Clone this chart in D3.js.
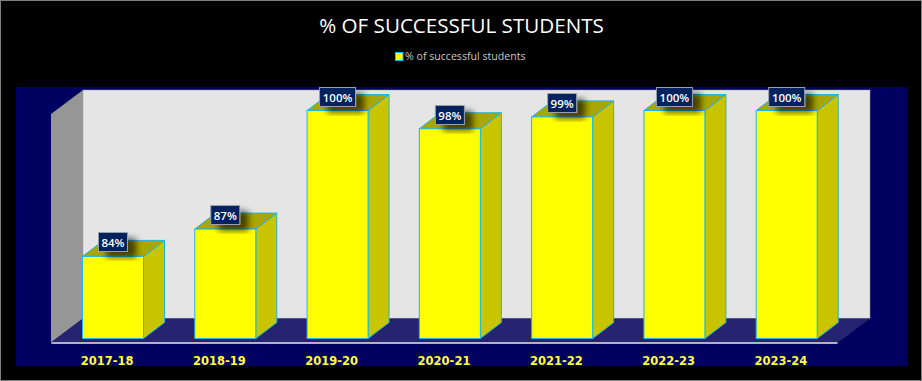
<!DOCTYPE html>
<html>
<head>
<meta charset="utf-8">
<script src="https://cdn.jsdelivr.net/npm/d3@7"></script>
<style>
  html, body { margin: 0; padding: 0; background: #000; }
  svg { display: block; }
</style>
</head>
<body>
<div id="chart"></div>
<script>
const categories = ['2017-18', '2018-19', '2019-20', '2020-21', '2021-22', '2022-23', '2023-24'];
const values = [84, 87, 100, 98, 99.3, 100, 100];
const valueLabels = ['84%', '87%', '100%', '98%', '99%', '100%', '100%'];
const yDomain = [75, 100];
const chartTitle = '% OF SUCCESSFUL STUDENTS';
const seriesName = '% of successful students';

const width = 922;
const height = 381;
const depthX = 32;   // floor / side wall skew
const depthY = 24;
const barDepthX = 21;
const barDepthY = 16;
const axisY = 342.5;
const floorLeft = 51;
const floorRight = 838;

const svg = d3.select('#chart').append('svg')
    .attr('width', width)
    .attr('height', height);

const defs = svg.append('defs');
const shadow = defs.append('filter')
    .attr('id', 'label-shadow')
    .attr('x', '-50%').attr('y', '-50%')
    .attr('width', '200%').attr('height', '200%');
shadow.append('feDropShadow')
    .attr('dx', 8).attr('dy', 6)
    .attr('stdDeviation', 3)
    .attr('flood-color', '#000')
    .attr('flood-opacity', 0.6);

const xScale = d3.scaleBand()
    .domain(categories)
    .range([floorLeft, floorRight - 1])
    .paddingInner(0)
    .paddingOuter(0);

const yScale = d3.scaleLinear()
    .domain(yDomain)
    .range([338.5, 110.5]);

// outer frame and plot background
svg.append('rect')
    .attr('x', 0.5).attr('y', 0.5)
    .attr('width', width - 1).attr('height', height - 1)
    .attr('fill', '#000')
    .attr('stroke', '#808080');

svg.append('rect')
    .attr('x', 16).attr('y', 87)
    .attr('width', 891).attr('height', 279)
    .attr('fill', '#000060');

// back wall, side wall, floor
svg.append('rect')
    .attr('x', floorLeft + depthX).attr('y', 90)
    .attr('width', floorRight - floorLeft)
    .attr('height', axisY - depthY - 90)
    .attr('fill', '#e5e5e5')
    .attr('stroke', '#9a9aa8')
    .attr('stroke-width', 0.5);

svg.append('path')
    .attr('d', d3.line()([
        [floorLeft, 114],
        [floorLeft + depthX, 90],
        [floorLeft + depthX, axisY - depthY],
        [floorLeft, axisY]
    ]) + 'Z')
    .attr('fill', '#969696');

svg.append('path')
    .attr('d', d3.line()([
        [floorLeft, axisY],
        [floorLeft + depthX, axisY - depthY],
        [floorRight + depthX, axisY - depthY],
        [floorRight, axisY]
    ]) + 'Z')
    .attr('fill', '#262470');

// bars
const barWidth = 61;
const barOffset = 31.5;   // front face left edge inside the band

const bars = svg.append('g').selectAll('g')
    .data(categories)
    .join('g')
    .attr('transform', d => `translate(${xScale(d) + barOffset},0)`);

const y0 = yScale(yDomain[0]);

bars.append('path')   // side face
    .attr('d', (d, i) => d3.line()([
        [barWidth, yScale(values[i])],
        [barWidth + barDepthX, yScale(values[i]) - barDepthY],
        [barWidth + barDepthX, y0 - barDepthY],
        [barWidth, y0]
    ]) + 'Z')
    .attr('fill', '#c8c400')
    .attr('stroke', '#1fb5e0')
    .attr('stroke-width', 1);

bars.append('path')   // top face
    .attr('d', (d, i) => d3.line()([
        [0, yScale(values[i])],
        [barDepthX, yScale(values[i]) - barDepthY],
        [barWidth + barDepthX, yScale(values[i]) - barDepthY],
        [barWidth, yScale(values[i])]
    ]) + 'Z')
    .attr('fill', '#aaa600')
    .attr('stroke', '#1fb5e0')
    .attr('stroke-width', 1);

bars.append('rect')   // front face
    .attr('y', (d, i) => yScale(values[i]))
    .attr('width', barWidth)
    .attr('height', (d, i) => y0 - yScale(values[i]))
    .attr('fill', '#ffff00')
    .attr('stroke', '#1fb5e0')
    .attr('stroke-width', 1);

// axis line + category labels
const xAxis = d3.axisBottom(xScale).tickSize(0).tickPadding(14);
const axisG = svg.append('g')
    .attr('transform', `translate(0,${axisY})`)
    .call(xAxis);
axisG.select('.domain')
    .attr('stroke', '#e8e8e8')
    .attr('stroke-width', 1.5);
axisG.selectAll('text')
    .attr('fill', '#ffff33')
    .attr('font-family', '"DejaVu Sans", sans-serif')
    .attr('font-weight', 'bold')
    .attr('font-size', 11.5);

// data labels
const labels = svg.append('g').selectAll('g')
    .data(categories)
    .join('g')
    .attr('transform', (d, i) => `translate(${xScale(d) + barOffset + barWidth / 2},${Math.round(yScale(values[i])) - 23.5})`);

labels.append('rect')
    .attr('x', (d, i) => valueLabels[i].length > 3 ? -18 : -14.5)
    .attr('width', (d, i) => valueLabels[i].length > 3 ? 36 : 29)
    .attr('height', 19)
    .attr('fill', '#00205f')
    .attr('stroke', '#98a0ac')
    .attr('stroke-width', 1)
    .attr('filter', 'url(#label-shadow)');

labels.append('text')
    .attr('y', 14)
    .attr('text-anchor', 'middle')
    .attr('fill', '#fff')
    .attr('font-family', '"Open Sans", sans-serif')
    .attr('font-weight', 600)
    .attr('font-size', 11.5)
    .text((d, i) => valueLabels[i]);

// title and legend
svg.append('text')
    .attr('x', 461.5).attr('y', 33)
    .attr('text-anchor', 'middle')
    .attr('fill', '#fff')
    .attr('font-family', '"Open Sans", sans-serif')
    .attr('font-size', 20.6)
    .text(chartTitle);

svg.append('rect')
    .attr('x', 395.5).attr('y', 52.5)
    .attr('width', 7.5).attr('height', 8)
    .attr('fill', '#ffff00')
    .attr('stroke', '#1fb5e0');

svg.append('text')
    .attr('x', 405).attr('y', 60)
    .attr('fill', '#c8c8c8')
    .attr('font-family', '"Open Sans", sans-serif')
    .attr('font-size', 10.6)
    .text(seriesName);
</script>
</body>
</html>
